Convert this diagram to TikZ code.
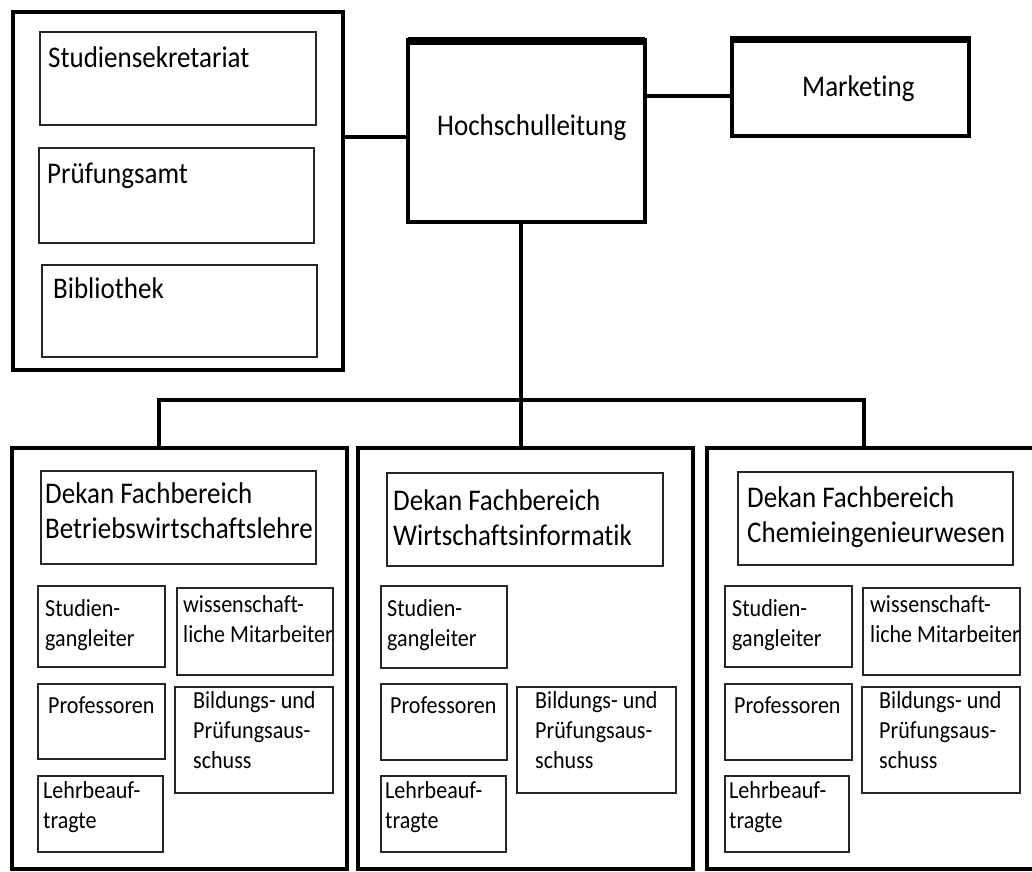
\documentclass[tikz,border=0pt]{standalone}
\usepackage{fontspec}
\setmainfont[FakeStretch=0.9,Ligatures=NoCommon]{Carlito}
\newcommand{\orgtop}{\fontsize{30}{36}\selectfont}
\newcommand{\orghead}{\fontsize{30}{35}\selectfont}
\newcommand{\orgsmall}{\fontsize{24.5}{30}\selectfont}

\tikzset{
  mainbox/.style={draw,line width=4.5pt,anchor=north west,inner sep=0pt,outer sep=0pt},
  deptbox/.style={draw,line width=4pt,anchor=north west,inner sep=0pt,outer sep=0pt},
  unitbox/.style={draw=black!85,line width=2pt,anchor=north west,inner sep=0pt,outer sep=0pt},
  link/.style={line width=4pt},
  lbl/.style={anchor=north west,inner sep=0pt,align=left},
  toptext/.style n args={3}{label={[lbl,font=\orgtop,xshift=#1,yshift=#2]north west:#3}},
  headtext/.style n args={3}{label={[lbl,font=\orghead,xshift=#1,yshift=#2]north west:#3}},
  unittext/.style n args={3}{label={[lbl,font=\orgsmall,xshift=#1,yshift=#2]north west:#3}},
}

\begin{document}
\begin{tikzpicture}[x=1pt,y=-1pt]
\useasboundingbox (0,0) rectangle (1032,871);

% Verwaltung
\node[mainbox,minimum width=330,minimum height=358] (admin) at (13,12) {};
\node[unitbox,minimum width=276,minimum height=93,toptext={8}{-14}{Studiensekretariat}] (ss) at (40,32) {};
\node[unitbox,minimum width=275,minimum height=95,toptext={8}{-15}{Prüfungsamt}] (pa) at (39,148) {};
\node[unitbox,minimum width=275,minimum height=92,toptext={11}{-12}{Bibliothek}] (bib) at (42,265) {};

% Leitung
\node[mainbox,minimum width=237,minimum height=182,toptext={29}{-74}{Hochschulleitung}] (hsl) at (408,40) {};
\node[mainbox,minimum width=237,minimum height=98,toptext={70}{-37}{Marketing}] (mkt) at (732,38) {};
\draw[line width=8pt] ([yshift=-1pt]hsl.north west) -- ([yshift=-1pt]hsl.north east);
\draw[line width=7pt] ([yshift=-1pt]mkt.north west) -- ([yshift=-1pt]mkt.north east);

% Fachbereiche
\node[deptbox,minimum width=335,minimum height=421] (bwl) at (12,448) {};
\node[deptbox,minimum width=335,minimum height=421] (wi) at (358,448) {};
\node[deptbox,minimum width=330,minimum height=421] (chem) at (707,448) {};

\node[unitbox,minimum width=275,minimum height=93,headtext={4}{-11}{Dekan Fachbereich\\Betriebswirtschaftslehre}] (bwl-dekan) at (41,471) {};
\node[unitbox,minimum width=127,minimum height=81,unittext={7}{-13}{Studien-\\gangleiter}] (bwl-sgl) at (38,586) {};
\node[unitbox,minimum width=156,minimum height=87,unittext={6}{-7}{wissenschaft-\\liche Mitarbeiter}] (bwl-wma) at (177,588) {};
\node[unitbox,minimum width=127,minimum height=75,unittext={10}{-12}{Professoren}] (bwl-prof) at (38,684) {};
\node[unitbox,minimum width=158,minimum height=106,unittext={18}{-4}{Bildungs- und\\Prüfungsaus-\\schuss}] (bwl-bpa) at (175,687) {};
\node[unitbox,minimum width=125,minimum height=76,unittext={5}{-5}{Lehrbeauf-\\tragte}] (bwl-lb) at (38,776) {};

\node[unitbox,minimum width=276,minimum height=93,headtext={6}{-16}{Dekan Fachbereich\\Wirtschaftsinformatik}] (wi-dekan) at (387,473) {};
\node[unitbox,minimum width=126,minimum height=82,unittext={6}{-13}{Studien-\\gangleiter}] (wi-sgl) at (381,586) {};
\node[unitbox,minimum width=126,minimum height=76,unittext={9}{-12}{Professoren}] (wi-prof) at (381,684) {};
\node[unitbox,minimum width=159,minimum height=106,unittext={18}{-4}{Bildungs- und\\Prüfungsaus-\\schuss}] (wi-bpa) at (517,687) {};
\node[unitbox,minimum width=125,minimum height=76,unittext={4}{-5}{Lehrbeauf-\\tragte}] (wi-lb) at (381,776) {};

\node[unitbox,minimum width=275,minimum height=93,headtext={9}{-14}{Dekan Fachbereich\\Chemieingenieurwesen}] (chem-dekan) at (738,472) {};
\node[unitbox,minimum width=127,minimum height=81,unittext={7}{-13}{Studien-\\gangleiter}] (chem-sgl) at (725,586) {};
\node[unitbox,minimum width=157,minimum height=87,unittext={7}{-7}{wissenschaft-\\liche Mitarbeiter}] (chem-wma) at (863,588) {};
\node[unitbox,minimum width=127,minimum height=76,unittext={9}{-12}{Professoren}] (chem-prof) at (725,684) {};
\node[unitbox,minimum width=158,minimum height=106,unittext={17}{-4}{Bildungs- und\\Prüfungsaus-\\schuss}] (chem-bpa) at (862,687) {};
\node[unitbox,minimum width=124,minimum height=76,unittext={4}{-5}{Lehrbeauf-\\tragte}] (chem-lb) at (725,776) {};

% Verbindungen
\coordinate (ah) at ([yshift=-6pt]hsl.west);
\draw[link] (ah) -- (ah -| admin.east);
\coordinate (hm) at ([yshift=-9pt]mkt.west);
\draw[link] (hm) -- (hm -| hsl.east);
\coordinate (down) at ([xshift=-5.5pt]hsl.south);
\draw[link] (down) -- (down |- wi.north);
\coordinate (bus) at (0,400);
\coordinate (bwl-in) at ([xshift=-20.5pt]bwl.north);
\coordinate (chem-in) at ([xshift=-8.5pt]chem.north);
\draw[link] (bwl-in) -- (bwl-in |- bus) -- (chem-in |- bus) -- (chem-in);
\end{tikzpicture}
\end{document}
